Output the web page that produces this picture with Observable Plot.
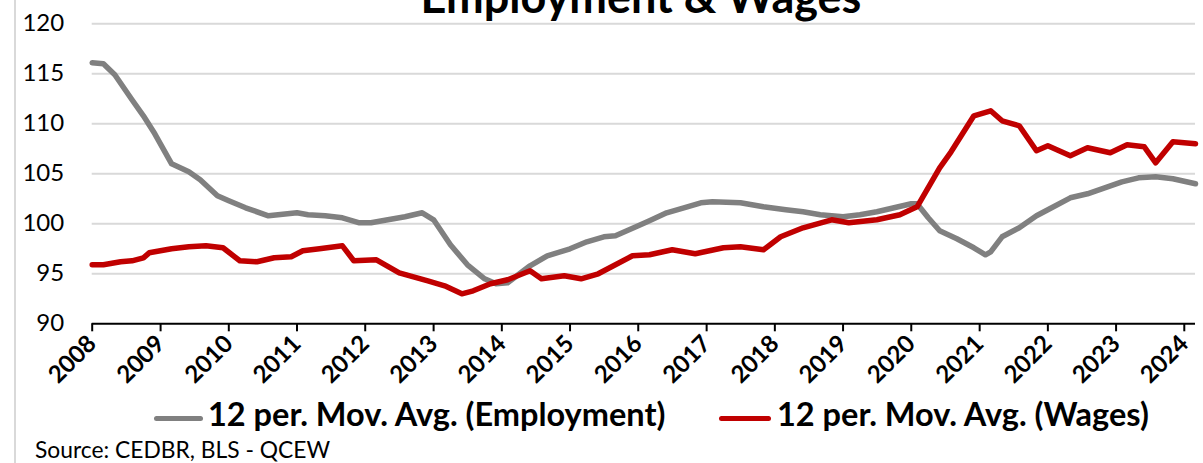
<!DOCTYPE html>
<html>
<head>
<meta charset="utf-8">
<script src="https://cdn.jsdelivr.net/npm/d3@7"></script>
<script src="https://cdn.jsdelivr.net/npm/@observablehq/plot@0.6"></script>
<style>
  html, body { margin: 0; padding: 0; background: #fff; }
  #wrap { position: relative; width: 1203px; height: 463px; overflow: hidden; font-family: Lato, sans-serif; color: #000; }
  #border { position: absolute; left: 14px; top: 0; width: 2px; height: 463px; background: #d9d9d9; }
  #chart { position: absolute; left: 0; top: 0; }
  .t { position: absolute; white-space: nowrap; }
  #title { font-size: 45px; line-height: 54px; font-weight: bold; left: 0; width: 1282px; text-align: center; top: -31px; }
  #legend { top: 394px; left: 0; font-size: 32.5px; line-height: 39px; font-weight: bold; }
  .sw { position: absolute; height: 5px; border-radius: 3px; top: 21.5px; }
  #source { font-size: 22.8px; line-height: 27.4px; left: 35px; top: 435.5px; }
</style>
</head>
<body>
<div id="wrap">
  <div id="border"></div>
  <div id="chart"></div>
  <div id="title" class="t">Employment &amp; Wages</div>
  <div id="legend" class="t"></div>
  <div id="source" class="t">Source: CEDBR, BLS - QCEW</div>
</div>
<script>
// ---- data ----
const empDates = ["2008-01","2008-03","2008-05","2008-08","2008-10","2008-12","2009-03","2009-06","2009-08","2009-11","2010-01","2010-04","2010-08","2011-01","2011-03","2011-06","2011-09","2011-12","2012-02","2012-05","2012-08","2012-11","2013-01","2013-04","2013-07","2013-10","2013-12","2014-02","2014-06","2014-09","2015-01","2015-04","2015-07","2015-09","2016-01","2016-03","2016-06","2016-09","2016-12","2017-02","2017-07","2017-11","2018-03","2018-06","2018-09","2019-01","2019-04","2019-07","2019-10","2020-01","2020-02","2020-04","2020-06","2020-09","2020-12","2021-02","2021-03","2021-05","2021-08","2021-11","2022-01","2022-05","2022-08","2022-11","2023-02","2023-05","2023-08","2023-11","2024-03"];
const empValues = [116.1,116.0,114.9,112.4,110.8,109.0,106.0,105.2,104.4,102.8,102.3,101.6,100.8,101.1,100.9,100.8,100.6,100.1,100.1,100.4,100.7,101.1,100.4,97.9,95.9,94.5,94.0,94.1,95.8,96.8,97.5,98.2,98.7,98.8,99.8,100.3,101.1,101.6,102.1,102.2,102.1,101.7,101.4,101.2,100.9,100.7,100.9,101.2,101.6,102.0,102.0,100.6,99.3,98.5,97.6,96.9,97.2,98.7,99.6,100.8,101.4,102.6,103.0,103.6,104.2,104.6,104.7,104.5,104.0];

const wageDates = ["2008-01","2008-03","2008-06","2008-08","2008-10","2008-11","2009-03","2009-06","2009-09","2009-12","2010-03","2010-06","2010-09","2010-12","2011-02","2011-05","2011-09","2011-11","2012-03","2012-07","2012-12","2013-03","2013-06","2013-08","2013-11","2014-02","2014-06","2014-08","2014-12","2015-03","2015-06","2015-12","2016-03","2016-07","2016-11","2017-04","2017-07","2017-11","2018-02","2018-06","2018-11","2019-02","2019-07","2019-11","2020-02","2020-06","2020-08","2020-12","2021-03","2021-05","2021-08","2021-11","2022-01","2022-05","2022-08","2022-12","2023-03","2023-06","2023-08","2023-11","2024-03"];
const wageValues = [95.9,95.9,96.2,96.3,96.6,97.1,97.5,97.7,97.8,97.6,96.3,96.2,96.6,96.7,97.3,97.5,97.8,96.3,96.4,95.1,94.3,93.8,93.0,93.3,94.0,94.4,95.3,94.5,94.8,94.5,95.0,96.8,96.9,97.4,97.0,97.6,97.7,97.4,98.7,99.6,100.4,100.1,100.4,100.9,101.7,105.6,107.2,110.8,111.3,110.3,109.8,107.3,107.8,106.8,107.6,107.1,107.9,107.7,106.1,108.2,108.0];

const yTicks = [90, 95, 100, 105, 110, 115, 120];
const yearTicks = [2008,2009,2010,2011,2012,2013,2014,2015,2016,2017,2018,2019,2020,2021,2022,2023,2024];
const seriesNames = ["12 per. Mov. Avg. (Employment)", "12 per. Mov. Avg. (Wages)"];
const seriesColors = ["#808080", "#c00000"];

// ---- build ----
const parse = d3.utcParse("%Y-%m");
const emp = empDates.map((d, i) => ({date: parse(d), value: empValues[i]}));
const wages = wageDates.map((d, i) => ({date: parse(d), value: wageValues[i]}));
const yearDates = yearTicks.map(y => new Date(Date.UTC(y, 0, 1)));

const chart = Plot.plot({
  width: 1203,
  height: 400,
  marginLeft: 91.7,
  marginRight: 8,
  marginTop: 23.3,
  marginBottom: 76.7,
  style: {fontFamily: "Lato, sans-serif", color: "#000", background: "transparent", overflow: "visible"},
  x: {type: "utc", domain: [new Date(Date.UTC(2008, 0, 1)), new Date(Date.UTC(2024, 2, 1))]},
  y: {domain: [90, 120]},
  marks: [
    Plot.ruleY(yTicks.filter(d => d > 90), {stroke: "#d9d9d9", strokeWidth: 2}),
    Plot.lineY(emp, {x: "date", y: "value", stroke: seriesColors[0], strokeWidth: 5.5}),
    Plot.lineY(wages, {x: "date", y: "value", stroke: seriesColors[1], strokeWidth: 5.5}),
    Plot.ruleY([90], {stroke: "#000", strokeWidth: 2}),
    Plot.axisY({ticks: yTicks, tickSize: 0, tickPadding: 28, fontSize: 24, label: null}),
    Plot.axisX({ticks: yearDates, tickFormat: d => String(d.getUTCFullYear()), tickSize: 8, strokeWidth: 2, tickPadding: 8, tickRotate: -45, fontSize: 24, fontWeight: "bold", label: null})
  ]
});
document.getElementById("chart").appendChild(chart);

// legend
const legend = document.getElementById("legend");
const legendItems = [
  {sx: 154, sw: 49, tx: 208},
  {sx: 719, sw: 52, tx: 777}
];
legendItems.forEach((it, i) => {
  const s = document.createElement("div");
  s.className = "sw";
  s.style.left = it.sx + "px";
  s.style.width = it.sw + "px";
  s.style.background = seriesColors[i];
  legend.appendChild(s);
  const t = document.createElement("div");
  t.className = "t";
  t.style.left = it.tx + "px";
  t.style.top = "0px";
  t.textContent = seriesNames[i];
  legend.appendChild(t);
});
</script>
</body>
</html>
